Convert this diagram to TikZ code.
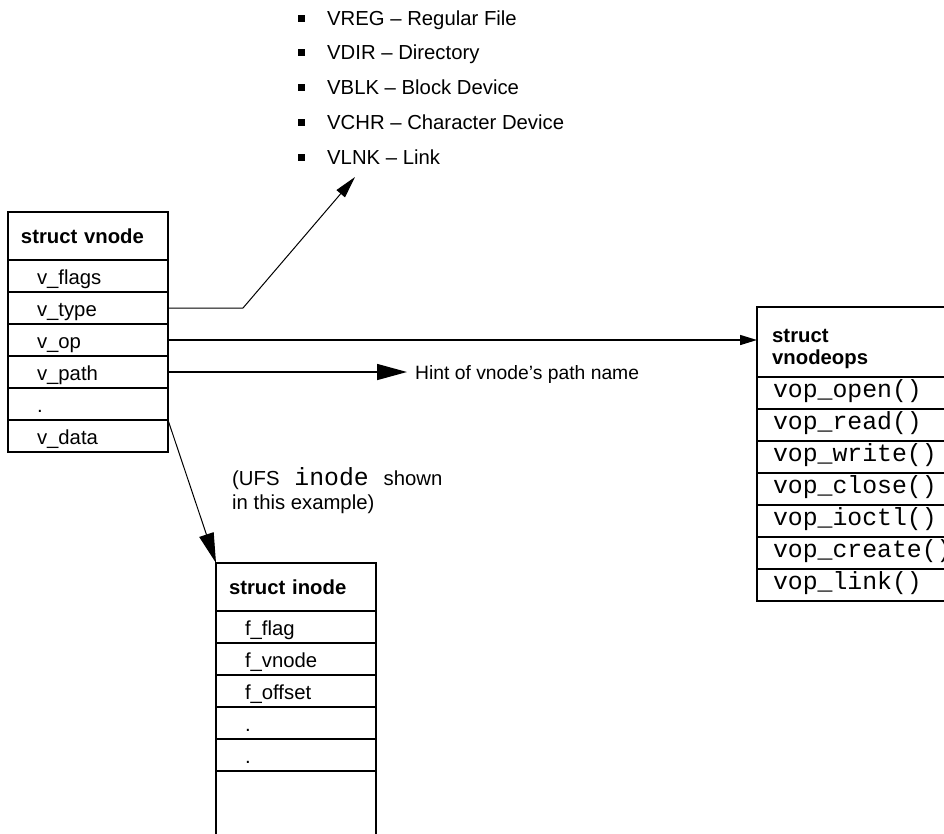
\documentclass[tikz,border=0pt]{standalone}
\usepackage{fontspec}
\setmainfont{Liberation Sans}
\setmonofont{Liberation Mono}
\usetikzlibrary{arrows.meta}

\newcommand{\sansz}{\fontsize{20.3pt}{24pt}\selectfont}
\newcommand{\hintz}{\fontsize{19.3pt}{23pt}\selectfont}
\newcommand{\monoz}{\fontsize{24.8pt}{28pt}\selectfont\ttfamily}

\tikzset{
  cellbase/.style={draw, line width=2.6pt, anchor=north west, inner sep=0pt,
    outer sep=0pt, align=left},
  vhead/.style={cellbase, text width=160pt, minimum height=48pt,
    text height=18pt, text depth=4pt, font=\sansz\bfseries,
    execute at begin node={\hspace*{13pt}}},
  vrow/.style={cellbase, text width=160pt, minimum height=32pt,
    text height=20pt, text depth=4pt, font=\sansz,
    execute at begin node={\hspace*{29pt}}},
  ophead/.style={cellbase, text width=200pt, minimum height=70pt},
  oprow/.style={cellbase, text width=200pt, minimum height=32pt,
    text height=14pt, text depth=6pt, font=\monoz,
    execute at begin node={\hspace*{16pt}}},
  optitle/.style={anchor=base west, inner sep=0pt, font=\sansz\bfseries},
  plain/.style={anchor=base west, inner sep=0pt, font=\sansz},
  sq/.style={fill, minimum size=7pt, inner sep=0pt},
  conn/.style={line width=1.5pt},
  thinconn/.style={line width=1pt},
  boxline/.style={line width=2.6pt},
}

\begin{document}
\begin{tikzpicture}[x=1pt, y=-1pt]
\useasboundingbox (0,0) rectangle (944,833);
\clip (0,0) rectangle (944,833);

% vnode type list
\foreach \txt [count=\i] in {VREG \textendash{} Regular File,
    VDIR \textendash{} Directory, VBLK \textendash{} Block Device,
    VCHR \textendash{} Character Device, VLNK \textendash{} Link} {
  \node[plain] (t\i) at (327, {25+(\i-1)*34.8}) {\txt};
  \node[sq] at (301, {18+(\i-1)*34.8}) {};
}
\coordinate (typetip) at (355,177);

% struct vnode
\node[vhead] (vhd) at (8,212) {struct vnode};
\node[vrow] (vflags) at (vhd.south west) {v\_flags};
\node[vrow] (vtype) at (vflags.south west) {v\_type};
\node[vrow] (vop) at (vtype.south west) {v\_op};
\node[vrow] (vpath) at (vop.south west) {v\_path};
\node[vrow] (vdot) at (vpath.south west) {.};
\node[vrow] (vdata) at (vdot.south west) {v\_data};

% struct vnodeops
\node[ophead] (opshd) at (757,307) {};
\node[optitle] at ([shift={(15pt,-35pt)}]opshd.north west) {struct};
\node[optitle] at ([shift={(15pt,-57pt)}]opshd.north west) {vnodeops};
\node[oprow] (opopen) at (opshd.south west) {vop\_open()};
\node[oprow] (opread) at (opopen.south west) {vop\_read()};
\node[oprow] (opwrite) at (opread.south west) {vop\_write()};
\node[oprow] (opclose) at (opwrite.south west) {vop\_close()};
\node[oprow] (opioctl) at (opclose.south west) {vop\_ioctl()};
\node[oprow] (opcreate) at (opioctl.south west) {vop\_create()};
\node[oprow] (oplink) at (opcreate.south west) {vop\_link()};

% struct inode
\node[vhead] (ihd) at (216,563) {struct inode};
\node[vrow] (iflag) at (ihd.south west) {f\_flag};
\node[vrow] (ivnode) at (iflag.south west) {f\_vnode};
\node[vrow] (ioffset) at (ivnode.south west) {f\_offset};
\node[vrow] (idota) at (ioffset.south west) {.};
\node[vrow] (idotb) at (idota.south west) {.};
\draw[boxline] (idotb.south west) -- ++(0pt,-80pt);
\draw[boxline] (idotb.south east) -- ++(0pt,-80pt);

% notes
\node[plain, font=\hintz, inner xsep=8pt] (hint) at (407,379) {Hint of vnode’s path name};
\node[plain] (ufsa) at (232,485) {(UFS\texttt{\monoz{} inode }shown};
\node[plain] (ufsb) at (232,509) {in this example)};

% connectors
\coordinate (bend) at (243,308);
\draw[thinconn, -{Triangle[length=22pt, width=11pt]}]
  (vtype.east) -- (bend) -- (typetip);
\draw[conn, -{Triangle[length=17pt, width=10pt]}]
  (vop.east) -- (vop.east -| opshd.west);
\draw[conn, -{Triangle[length=30pt, width=16pt]}]
  (vpath.east) -- (vpath.east -| hint.west);
\draw[thinconn, -{Triangle[length=30pt, width=15pt]}]
  (vdata.north east) -- (ihd.north west);
\end{tikzpicture}
\end{document}
